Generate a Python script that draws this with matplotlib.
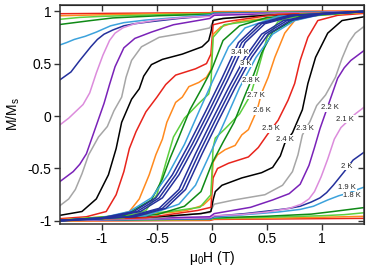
import numpy as np
import matplotlib.pyplot as plt
from matplotlib import rcParams

rcParams['font.family'] = ['Liberation Sans', 'DejaVu Sans']
rcParams['font.size'] = 10
rcParams['axes.unicode_minus'] = False

# field-up branch of every loop (H in T, M/Ms)
# the field-down branch is the same curve turned through the origin
temps = ['1.5', '1.6', '1.7', '1.8', '1.9', '2', '2.1', '2.2', '2.3', '2.4',
         '2.5', '2.6', '2.7', '2.8', '2.9', '3', '3.2', '3.4']

h_15 = [-1.4, -0.02, 0.02, 1.4]
m_15 = [-1.0, -0.995, -0.985, -0.975]
h_16 = [-1.4, -0.02, 0.02, 0.5, 1.0, 1.4]
m_16 = [-1.0, -0.99, -0.98, -0.975, -0.965, -0.955]
h_17 = [-1.4, -0.02, 0.02, 0.5, 1.0, 1.2, 1.4]
m_17 = [-0.995, -0.985, -0.975, -0.965, -0.95, -0.94, -0.92]
h_18 = [-1.4, -0.02, 0.02, 0.5, 0.9, 1.1, 1.25, 1.4]
m_18 = [-0.995, -0.98, -0.97, -0.955, -0.935, -0.91, -0.89, -0.87]
h_19 = [-1.4, -0.02, 0.02, 0.3, 0.6, 0.8, 0.92, 1.05, 1.15, 1.25, 1.32, 1.4]
m_19 = [-0.995, -0.98, -0.965, -0.94, -0.915, -0.89, -0.86, -0.8, -0.76, -0.73, -0.7, -0.67]
h_20 = [-1.4, -0.02, 0.02, 0.3, 0.55, 0.7, 0.8, 0.9, 0.98, 1.04, 1.1, 1.2, 1.28, 1.4]
m_20 = [-0.995, -0.975, -0.955, -0.93, -0.9, -0.88, -0.86, -0.82, -0.78, -0.73, -0.66, -0.53, -0.42, -0.33]
h_21 = [-1.4, -0.02, 0.02, 0.25, 0.5, 0.7, 0.81, 0.88, 0.93, 0.99, 1.05, 1.11, 1.17, 1.23, 1.3, 1.4]
m_21 = [-0.995, -0.97, -0.95, -0.94, -0.915, -0.88, -0.84, -0.79, -0.72, -0.58, -0.41, -0.22, -0.11, -0.05, 0.02, 0.1]
h_22 = [-1.4, -0.02, 0.02, 0.35, 0.55, 0.7, 0.8, 0.88, 0.93, 0.98, 1.03, 1.08, 1.14, 1.2, 1.26, 1.4]
m_22 = [-0.995, -0.96, -0.93, -0.87, -0.8, -0.74, -0.65, -0.47, -0.3, -0.12, 0.03, 0.18, 0.36, 0.46, 0.53, 0.64]
h_23 = [-1.4, -0.5, -0.02, 0.02, 0.2, 0.48, 0.64, 0.73, 0.78, 0.82, 0.89, 0.95, 1.03, 1.12, 1.18, 1.24, 1.3, 1.4]
m_23 = [-0.995, -0.97, -0.92, -0.84, -0.8, -0.75, -0.66, -0.53, -0.37, -0.18, -0.05, 0.1, 0.2, 0.37, 0.55, 0.7, 0.79, 0.87]
h_24 = [-1.4, -0.5, -0.1, -0.01, 0.01, 0.03, 0.09, 0.27, 0.45, 0.55, 0.62, 0.66, 0.73, 0.82, 0.87, 0.94, 1.05, 1.18, 1.4]
m_24 = [-0.99, -0.96, -0.93, -0.91, -0.8, -0.72, -0.66, -0.59, -0.54, -0.49, -0.38, -0.26, -0.16, 0.06, 0.31, 0.56, 0.79, 0.91, 0.95]
h_25 = [-1.4, -0.6, -0.13, -0.01, 0.01, 0.05, 0.15, 0.33, 0.42, 0.5, 0.6, 0.69, 0.75, 0.8, 0.87, 0.96, 1.14, 1.4]
m_25 = [-0.99, -0.97, -0.9, -0.87, -0.59, -0.5, -0.45, -0.39, -0.3, -0.18, -0.04, 0.15, 0.31, 0.53, 0.75, 0.91, 0.96, 0.98]
h_26 = [-1.4, -0.38, -0.23, -0.08, -0.01, 0.01, 0.05, 0.12, 0.21, 0.27, 0.33, 0.41, 0.45, 0.51, 0.57, 0.66, 0.75, 0.85, 1.0, 1.4]
m_26 = [-0.99, -0.92, -0.9, -0.85, -0.78, -0.44, -0.37, -0.32, -0.28, -0.18, -0.13, 0.06, 0.22, 0.37, 0.56, 0.79, 0.91, 0.94, 0.97, 0.99]
h_27 = [-1.4, -0.38, -0.11, -0.01, 0.01, 0.03, 0.12, 0.25, 0.35, 0.42, 0.5, 0.6, 0.8, 1.4]
m_27 = [-0.995, -0.91, -0.87, -0.75, -0.3, -0.21, -0.12, 0.02, 0.2, 0.45, 0.75, 0.9, 0.97, 0.995]
h_28 = [-1.4, -0.5, -0.25, -0.1, 0.0, 0.1, 0.2, 0.3, 0.38, 0.45, 0.55, 0.8, 1.4]
m_28 = [-0.995, -0.94, -0.86, -0.72, -0.45, -0.25, -0.06, 0.2, 0.4, 0.6, 0.8, 0.95, 1.0]
h_29 = [-1.4, -0.6, -0.3, -0.15, 0.0, 0.12, 0.25, 0.4, 0.55, 0.75, 1.0, 1.4]
m_29 = [-0.995, -0.95, -0.84, -0.66, -0.32, -0.04, 0.27, 0.56, 0.78, 0.91, 0.97, 1.0]
h_30 = [-1.4, -0.7, -0.42, -0.24, -0.09, 0.06, 0.21, 0.36, 0.51, 0.71, 1.0, 1.4]
m_30 = [-0.995, -0.96, -0.88, -0.7, -0.36, -0.04, 0.27, 0.56, 0.78, 0.91, 0.97, 1.0]
h_32 = [-1.4, -0.73, -0.45, -0.27, -0.12, 0.03, 0.18, 0.33, 0.48, 0.68, 1.0, 1.4]
m_32 = [-0.995, -0.96, -0.88, -0.7, -0.36, -0.04, 0.27, 0.56, 0.78, 0.91, 0.975, 1.0]
h_34 = [-1.4, -0.76, -0.48, -0.3, -0.15, 0.0, 0.15, 0.3, 0.45, 0.65, 1.0, 1.4]
m_34 = [-0.995, -0.96, -0.88, -0.7, -0.36, -0.04, 0.27, 0.56, 0.78, 0.91, 0.98, 1.0]

loops = [(h_15, m_15), (h_16, m_16), (h_17, m_17), (h_18, m_18), (h_19, m_19),
         (h_20, m_20), (h_21, m_21), (h_22, m_22), (h_23, m_23), (h_24, m_24),
         (h_25, m_25), (h_26, m_26), (h_27, m_27), (h_28, m_28), (h_29, m_29),
         (h_30, m_30), (h_32, m_32), (h_34, m_34)]

cyc = ['#e8241c', '#ff8a1e', '#5ccf3e', '#0f8a16', '#3ca2dc',
       '#24309c', '#dc8cdc', '#7a22b8', '#a6a6a6', '#000000']
colors = [cyc[i % 10] for i in range(len(temps))]
colors[-2] = '#24309c'
colors[-1] = '#24309c'

# where each temperature tag sits (data coords)
lab_pos = {'1.8': (1.273, -0.76), '1.9': (1.227, -0.68), '2': (1.227, -0.48),
           '2.1': (1.21, -0.03), '2.2': (1.073, 0.08), '2.3': (0.845, -0.12),
           '2.4': (0.665, -0.22), '2.5': (0.535, -0.12), '2.6': (0.455, 0.05),
           '2.7': (0.4, 0.2), '2.8': (0.355, 0.34), '3': (0.31, 0.5),
           '3.4': (0.255, 0.61)}

fig = plt.figure(figsize=(3.7, 2.7), dpi=100)
ax = fig.add_axes([0.162, 0.17, 0.822, 0.811])

for (h, m), c in zip(loops, colors):
    h = np.array(h)
    m = np.array(m)
    ax.plot(h, m, color=c, lw=1.1, solid_joinstyle='round')
    ax.plot(-h[::-1], -m[::-1], color=c, lw=1.1, solid_joinstyle='round')

for t, (x, y) in lab_pos.items():
    ax.text(x, y, t + ' K', fontsize=5.5, ha='center', va='center', color='#222222',
            bbox=dict(facecolor='white', edgecolor='none', pad=0.3), zorder=5)

ax.set_xlim(-1.38, 1.38)
ax.set_ylim(-1.03, 1.057)
ax.set_xticks([-1, -0.5, 0, 0.5, 1])
ax.set_xticklabels(['-1', '-0.5', '0', '0.5', '1'])
ax.set_yticks([-1, -0.5, 0, 0.5, 1])
ax.set_yticklabels(['-1', '-0.5', '0', '0.5', '1'])
ax.tick_params(direction='out', length=4, width=1, color='#333333', pad=2)
for s in ax.spines.values():
    s.set_linewidth(1.1)
    s.set_color('#333333')

top = ax.secondary_xaxis('top')
top.set_xticks([-1, -0.5, 0, 0.5, 1])
top.tick_params(direction='in', length=4, width=1, color='#333333', labeltop=False)
right = ax.secondary_yaxis('right')
right.set_yticks([-1, -0.5, 0, 0.5, 1])
right.tick_params(direction='in', length=4, width=1, color='#333333', labelright=False)

ax.set_xlabel('μ$_\\mathregular{0}$H (T)', labelpad=2)
ax.set_ylabel('M/M$_\\mathregular{s}$', labelpad=4)

fig.savefig('out.png', dpi=100)
